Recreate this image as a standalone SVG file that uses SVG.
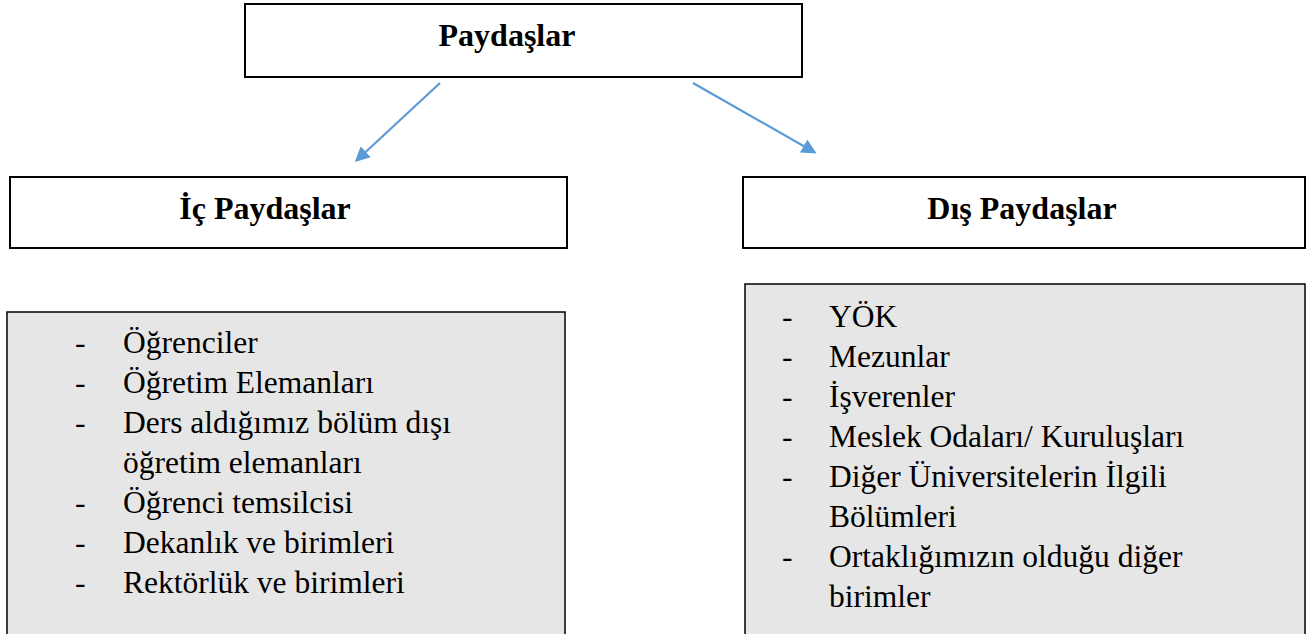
<svg xmlns="http://www.w3.org/2000/svg" width="1307" height="634" viewBox="0 0 1307 634">
<style>
.box{fill:#ffffff;stroke:#000;stroke-width:2}
.list{fill:#e7e6e6;stroke:#000;stroke-width:1.5}
.conn{stroke:#5b9bd5;stroke-width:2.2;fill:none}
</style>
<defs>
<marker id="ah" viewBox="0 0 10 10" refX="8" refY="5" markerWidth="15" markerHeight="15" markerUnits="userSpaceOnUse" orient="auto">
<path d="M0,0 L10,5 L0,10 z" fill="#5b9bd5"/>
</marker>
</defs>
<g id="connectors">
<line class="conn" x1="440" y1="83" x2="357" y2="160" marker-end="url(#ah)"/>
<line class="conn" x1="693" y1="83" x2="814" y2="152" marker-end="url(#ah)"/>
</g>
<g font-family="Liberation Serif" font-weight="bold" font-size="32" text-anchor="middle" fill="#000">
<g id="paydaslar">
<rect class="box" x="245" y="4" width="557" height="73"/>
<text x="507" y="46">Paydaşlar</text>
</g>
<g id="ic-paydaslar">
<rect class="box" x="10" y="177" width="557" height="71"/>
<text x="265" y="219">İç Paydaşlar</text>
</g>
<g id="dis-paydaslar">
<rect class="box" x="743" y="177" width="562" height="71"/>
<text x="1022" y="219">Dış Paydaşlar</text>
</g>
</g>
<g id="ic-list">
<rect class="list" x="7" y="312" width="558" height="330"/>
<g font-family="Liberation Serif" font-size="31.5" fill="#000">
<text x="75" y="353">-</text><text x="123" y="353">Öğrenciler</text>
<text x="75" y="393">-</text><text x="123" y="393">Öğretim Elemanları</text>
<text x="75" y="433">-</text><text x="123" y="433">Ders aldığımız bölüm dışı</text>
<text x="123" y="473">öğretim elemanları</text>
<text x="75" y="513">-</text><text x="123" y="513">Öğrenci temsilcisi</text>
<text x="75" y="553">-</text><text x="123" y="553">Dekanlık ve birimleri</text>
<text x="75" y="593">-</text><text x="123" y="593">Rektörlük ve birimleri</text>
</g>
</g>
<g id="dis-list">
<rect class="list" x="745" y="284" width="560" height="358"/>
<g font-family="Liberation Serif" font-size="31.5" fill="#000">
<text x="782" y="327">-</text><text x="829" y="327">YÖK</text>
<text x="782" y="367">-</text><text x="829" y="367">Mezunlar</text>
<text x="782" y="407">-</text><text x="829" y="407">İşverenler</text>
<text x="782" y="447">-</text><text x="829" y="447">Meslek Odaları/ Kuruluşları</text>
<text x="782" y="487">-</text><text x="829" y="487">Diğer Üniversitelerin İlgili</text>
<text x="829" y="527">Bölümleri</text>
<text x="782" y="567">-</text><text x="829" y="567">Ortaklığımızın olduğu diğer</text>
<text x="829" y="607">birimler</text>
</g>
</g>
</svg>
